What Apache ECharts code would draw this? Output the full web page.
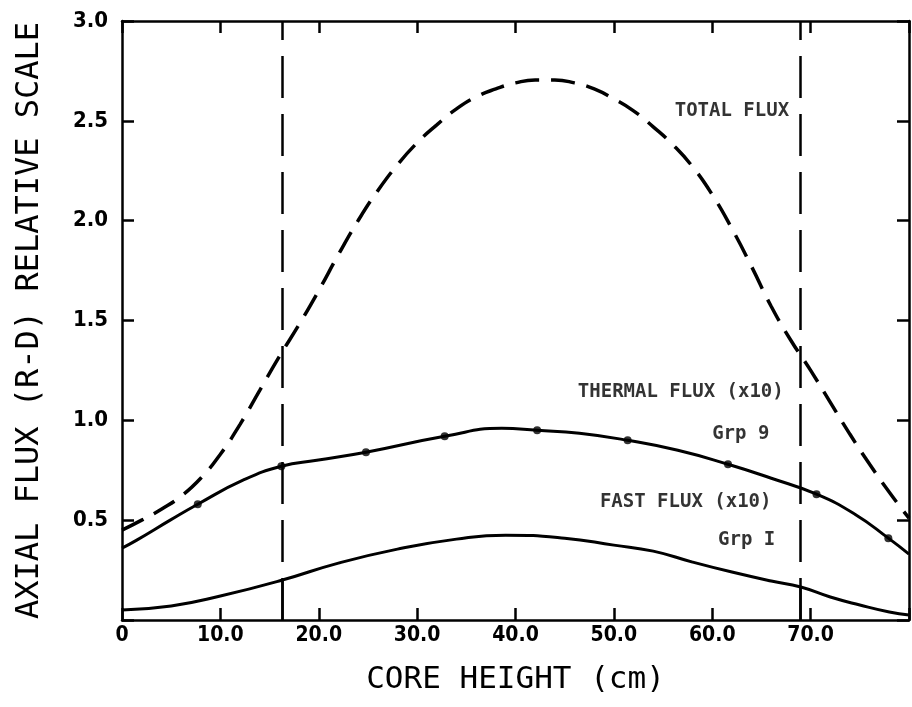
<!DOCTYPE html>
<html>
<head>
<meta charset="utf-8">
<script src="https://cdn.jsdelivr.net/npm/echarts@6/dist/echarts.min.js"></script>
<style>
  html, body { margin: 0; padding: 0; background: #fff; }
  #chart { width: 912px; height: 707px; }
</style>
</head>
<body>
<div id="chart"></div>
<script>
// core height (cm) and relative flux
const totalHeight = [0, 2, 4, 6, 8, 10, 12, 14, 16, 18, 20, 22, 24, 26, 28, 30, 32, 34, 36, 38, 40,
  42, 44, 46, 48, 50, 52, 54, 56, 58, 60, 62, 64, 66, 68, 70, 72, 74, 76, 78, 80]
const totalFlux = [0.45, 0.50, 0.555, 0.62, 0.71, 0.83, 0.98, 1.15, 1.32, 1.48, 1.65, 1.83, 2.0, 2.15, 2.28,
  2.39, 2.48, 2.56, 2.62, 2.66, 2.69, 2.705, 2.705, 2.69, 2.66, 2.61, 2.55, 2.47, 2.38, 2.27, 2.13, 1.96,
  1.77, 1.57, 1.40, 1.25, 1.09, 0.93, 0.78, 0.64, 0.51]

const thermalHeight = [0, 1.5, 4.9, 7.7, 12.3, 16.2, 19.8, 24.8, 32.8, 38.6, 42.2, 46.5, 51.4, 56.5,
  61.6, 66, 70.6, 74.5, 77.9, 80]
const thermalFlux = [0.36, 0.40, 0.50, 0.58, 0.70, 0.77, 0.80, 0.84, 0.92, 0.96, 0.95, 0.935, 0.90, 0.85,
  0.78, 0.71, 0.63, 0.53, 0.41, 0.33]
// the dots marked on the thermal curve
const thermalDotHeight = [7.7, 16.2, 24.8, 32.8, 42.2, 51.4, 61.6, 70.6, 77.9]
const thermalDotFlux = [0.58, 0.77, 0.84, 0.92, 0.95, 0.90, 0.78, 0.63, 0.41]

const fastHeight = [0, 5, 10, 16.3, 22, 28, 34, 39, 45, 50, 54, 58, 62, 66, 69, 72, 75, 78, 80]
const fastFlux = [0.05, 0.07, 0.12, 0.20, 0.285, 0.355, 0.405, 0.425, 0.41, 0.375, 0.345, 0.29, 0.24,
  0.195, 0.165, 0.115, 0.075, 0.04, 0.025]

// core boundaries (vertical dashed lines)
const coreBottom = 16.3
const coreTop = 68.9

const xTicks = [0, 10, 20, 30, 40, 50, 60, 70]
const yTicks = [0.5, 1.0, 1.5, 2.0, 2.5, 3.0]

const notes = [
  ['TOTAL FLUX', 62.0, 2.55],
  ['THERMAL FLUX (x10)', 56.8, 1.14],
  ['Grp 9', 62.9, 0.93],
  ['FAST FLUX (x10)', 57.3, 0.59],
  ['Grp I', 63.5, 0.40],
]

const zip = (xs, ys) => xs.map((x, i) => [x, ys[i]])

const ink = '#000'
const mono = 'DejaVu Sans Mono'
const narrow = 'DejaVu Sans Condensed'

const axisBase = {
  type: 'value',
  min: 0,
  axisLine: { show: true, onZero: false, lineStyle: { color: ink, width: 2.5 } },
  axisTick: { show: true, inside: true, length: 12, lineStyle: { color: ink, width: 2.5 } },
  splitLine: { show: false },
}

const xAxisBase = {
  ...axisBase,
  max: 80,
  interval: 10,
}
const yAxisBase = {
  ...axisBase,
  max: 3,
  interval: 0.5,
}

const chart = echarts.init(document.getElementById('chart'))
chart.setOption({
  backgroundColor: '#fff',
  animation: false,
  grid: { left: 122, right: 3, top: 21, bottom: 87 },
  xAxis: [
    {
      ...xAxisBase,
      position: 'bottom',
      axisLabel: {
        color: ink,
        fontFamily: narrow,
        fontWeight: 'bold',
        fontSize: 21,
        margin: 5,
        formatter: (v) => (xTicks.includes(v) ? (v === 0 ? '0' : v.toFixed(1)) : ''),
      },
      name: 'CORE HEIGHT (cm)',
      nameLocation: 'middle',
      nameGap: 44,
      nameTextStyle: { color: ink, fontFamily: mono, fontSize: 31 },
    },
    { ...xAxisBase, position: 'top', axisLabel: { show: false } },
  ],
  yAxis: [
    {
      ...yAxisBase,
      position: 'left',
      axisLabel: {
        color: ink,
        fontFamily: narrow,
        fontWeight: 'bold',
        fontSize: 22,
        margin: 14,
        formatter: (v) => (yTicks.some((t) => Math.abs(t - v) < 1e-6) ? v.toFixed(1) : ''),
      },
      name: 'AXIAL FLUX (R-D) RELATIVE SCALE',
      nameLocation: 'middle',
      nameGap: 76,
      nameTextStyle: { color: ink, fontFamily: mono, fontSize: 32 },
    },
    { ...yAxisBase, position: 'right', axisLabel: { show: false } },
  ],
  series: [
    {
      name: 'TOTAL FLUX',
      type: 'line',
      smooth: true,
      showSymbol: false,
      data: zip(totalHeight, totalFlux),
      lineStyle: { color: ink, width: 3.5, type: [24, 12] },
      markLine: {
        silent: true,
        symbol: 'none',
        label: { show: false },
        lineStyle: { color: ink, width: 2.5, type: [42, 16] },
        data: [
          { xAxis: coreBottom },
          { xAxis: coreTop },
          [
            { coord: [coreBottom, 0], lineStyle: { type: 'solid' } },
            { coord: [coreBottom, 0.2] },
          ],
          [
            { coord: [coreTop, 0], lineStyle: { type: 'solid' } },
            { coord: [coreTop, 0.165] },
          ],
        ],
      },
    },
    {
      name: 'THERMAL FLUX',
      type: 'line',
      smooth: true,
      showSymbol: false,
      data: zip(thermalHeight, thermalFlux),
      lineStyle: { color: ink, width: 3 },
    },
    {
      name: 'THERMAL DOTS',
      type: 'scatter',
      symbol: 'circle',
      symbolSize: 8,
      data: zip(thermalDotHeight, thermalDotFlux),
      itemStyle: { color: ink },
    },
    {
      name: 'FAST FLUX',
      type: 'line',
      smooth: true,
      showSymbol: false,
      data: zip(fastHeight, fastFlux),
      lineStyle: { color: ink, width: 3 },
    },
    {
      name: 'notes',
      type: 'scatter',
      symbolSize: 0,
      itemStyle: { color: ink },
      data: notes.map((n) => ({ value: [n[1], n[2]], name: n[0] })),
      label: {
        show: true,
        position: 'inside',
        formatter: '{b}',
        color: ink,
        fontFamily: mono,
        fontWeight: 'bold',
        fontSize: 19,
      },
    },
  ],
})
</script>
</body>
</html>
